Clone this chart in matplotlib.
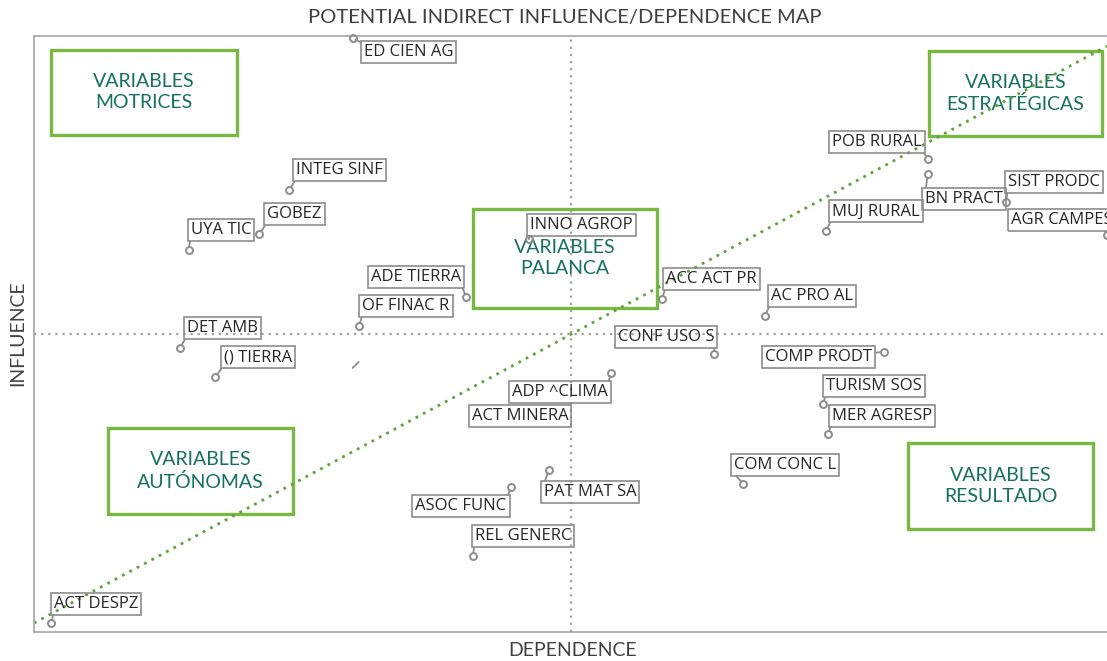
import matplotlib
matplotlib.use("Agg")
import matplotlib.pyplot as plt
from matplotlib.patches import Rectangle

# variables of the MICMAC map (dependence, influence), 0-100 scale
names = ["ED CIEN AG", "INTEG SINF", "GOBEZ", "UYA TIC", "ADE TIERRA", "OF FINAC R",
         "INNO AGROP", "DET AMB", "() TIERRA", "ACT MINERA", "ADP ^CLIMA", "PAT MAT SA",
         "ASOC FUNC", "REL GENERC", "ACT DESPZ", "CONF USO S", "COMP PRODT", "TURISM SOS",
         "MER AGRESP", "COM CONC L", "POB RURAL", "BN PRACT", "SIST PRODC", "MUJ RURAL",
         "AGR CAMPES", "ACC ACT PR", "AC PRO AL"]
dependence = [29.7, 23.8, 21.0, 14.4, 40.3, 30.3, 46.1, 13.6, 16.9, 29.7, 53.8, 48.0,
              44.5, 40.9, 1.6, 63.4, 79.2, 73.5, 74.0, 66.1, 83.3, 83.3, 90.6, 73.8,
              100.0, 58.5, 68.1]
influence = [99.7, 74.2, 66.8, 64.1, 56.2, 51.3, 65.9, 47.7, 42.8, 44.3, 43.5, 27.2,
             24.3, 12.8, 1.5, 46.6, 47.0, 38.3, 33.2, 24.8, 79.4, 76.8, 72.1, 67.3,
             66.6, 55.9, 53.0]

# label offsets from the point, in pixels (x right, y up)
label_offsets = [(56, -14.5), (50.5, 19.5), (35, 19.5), (32.5, 20), (-50.5, 20.5), (47, 20),
                 (53, 14.5), (42.5, 19.5), (42.5, 19.5), (167.5, -48.5), (-51.5, -19.5), (41, -22.5),
                 (-50.5, -18.5), (50, 19.5), (45, 19.5), (-48.5, 17.5), (-65, -5), (51.5, 17.5),
                 (54, 18.5), (41.5, 19.5), (-51, 17), (36.5, -24.5), (47.5, 20.5), (50, 19.5),
                 (-45, 15.5), (49.5, 19.5), (47, 20)]
no_marker = {"ACT MINERA"}

quadrants = ["VARIABLES\nMOTRICES", "VARIABLES\nESTRATÉGICAS", "VARIABLES\nPALANCA",
             "VARIABLES\nAUTÓNOMAS", "VARIABLES\nRESULTADO"]
quad_boxes = [(1.6, 83.4, 18.9, 97.7), (83.4, 83.2, 99.5, 97.5), (40.9, 54.4, 58.1, 71.0),
              (6.9, 19.8, 24.1, 34.2), (81.5, 17.3, 98.7, 31.7)]

diag_x = [0, 100]
diag_y = [1.5, 98.3]

W, H = 1107, 661
fig = plt.figure(figsize=(W / 100, H / 100), dpi=100)
ax = fig.add_axes([34 / W, (H - 632) / H, (1107 - 34) / W, (632 - 36) / H])
ax.set_xlim(0, 100)
ax.set_ylim(0, 100)
ax.set_xticks([])
ax.set_yticks([])
for s in ["left", "top", "bottom"]:
    ax.spines[s].set_color("#a6a6a6")
    ax.spines[s].set_linewidth(1.2)
ax.spines["right"].set_visible(False)

gray = "#8c8c8c"
ax.axvline(50, color="#a0a0a0", lw=1.6, ls=(0, (1, 2.2)), zorder=1)
ax.axhline(50, color="#a0a0a0", lw=1.6, ls=(0, (1, 2.2)), zorder=1)
ax.plot(diag_x, diag_y, color="#5fa33b", lw=2, ls=(0, (1, 2)), zorder=2)

for (x0, y0, x1, y1), txt in zip(quad_boxes, quadrants):
    ax.add_patch(Rectangle((x0, y0), x1 - x0, y1 - y0, fill=False, ec="#78b843", lw=2.4,
                           zorder=1.5, clip_on=False))
    ax.text((x0 + x1) / 2, (y0 + y1) / 2, txt, ha="center", va="center", color="#15705f",
            fontsize=14, family=["Lato", "DejaVu Sans"], linespacing=1.3, zorder=1.6)

lab_font = ["Open Sans", "DejaVu Sans"]
bbox = dict(boxstyle="square,pad=0.18", fc="none", ec=gray, lw=1.2)
for n, x, y, (dx, dy) in zip(names, dependence, influence, label_offsets):
    if n in no_marker:
        ax.annotate("", xy=(x, y), xytext=(6, 6), textcoords="offset pixels",
                    arrowprops=dict(arrowstyle="-", color=gray, lw=1.3, shrinkA=0, shrinkB=0))
        ax.annotate(n, xy=(x, y), xytext=(dx, dy), textcoords="offset pixels",
                    ha="center", va="center", fontsize=12, family=lab_font,
                    color="#262626", bbox=bbox, annotation_clip=False)
        continue
    ax.plot(x, y, marker="o", ms=5, mfc="none", mec=gray, mew=1.4, zorder=4, clip_on=False)
    rx = 0 if dx > 0 else 1
    ry = 0 if dy > 0 else 1
    if abs(dy) < 8:
        ry = 0.75
    ax.annotate(n, xy=(x, y), xytext=(dx, dy), textcoords="offset pixels",
                ha="center", va="center", fontsize=12, family=lab_font, color="#262626",
                bbox=bbox, annotation_clip=False,
                arrowprops=dict(arrowstyle="-", color=gray, lw=1.3, shrinkA=0, shrinkB=2.5,
                                relpos=(rx, ry)))

fig.text(565 / W, 1 - 18 / H, "POTENTIAL INDIRECT INFLUENCE/DEPENDENCE MAP", ha="center",
         va="center", fontsize=14.5, color="#404040", family=["Lato", "DejaVu Sans"])
fig.text(573 / W, 1 - 651 / H, "DEPENDENCE", ha="center", va="center", fontsize=14,
         color="#404040", family=["Lato", "DejaVu Sans"])
fig.text(18 / W, 1 - 333 / H, "INFLUENCE", ha="center", va="center", rotation=90,
         fontsize=14, color="#404040", family=["Lato", "DejaVu Sans"])

fig.savefig("out.png", dpi=100)
